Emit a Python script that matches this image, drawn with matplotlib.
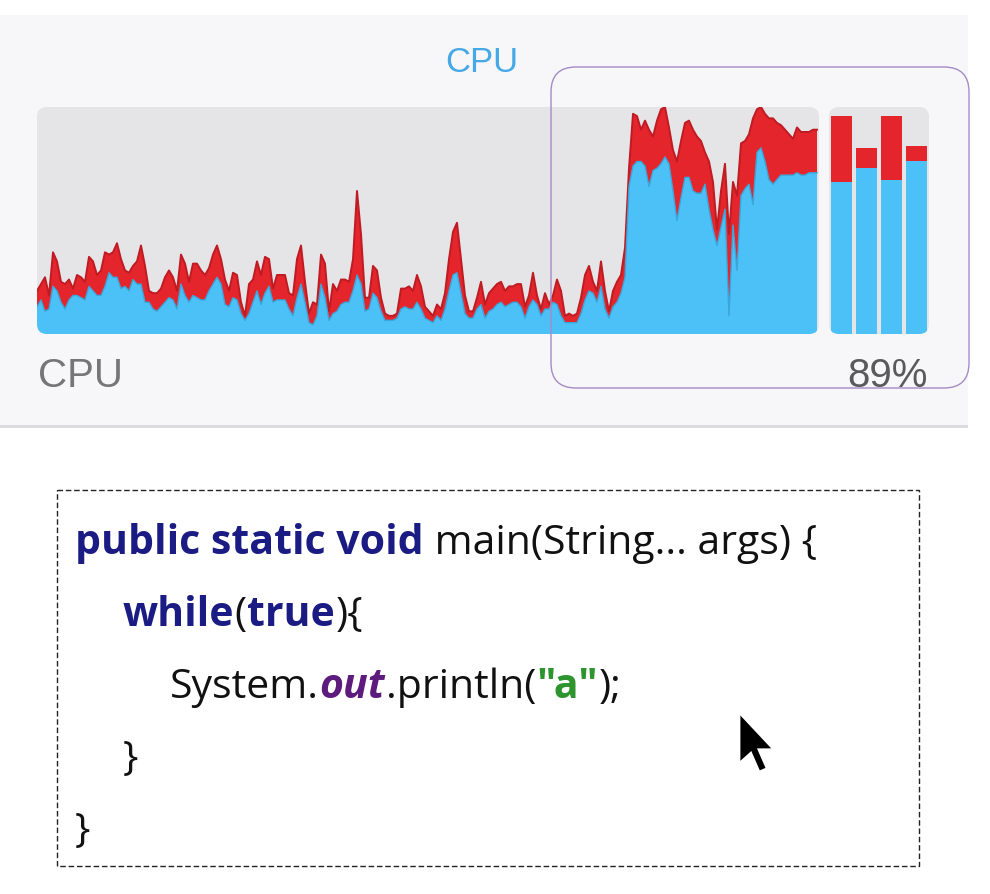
import numpy as np
import matplotlib
matplotlib.use("Agg")
import matplotlib.pyplot as plt
from matplotlib.patches import FancyBboxPatch, Rectangle, Polygon

# ---------------- data ----------------
title = "CPU"
label_left = "CPU"

# per-sample CPU load (percent), user = blue, system = red (stacked)
user_pct = [
    12, 15, 10, 11, 21, 19, 14, 11, 15, 17,
    17, 16, 15, 21, 19, 17, 17, 21, 27, 25,
    25, 20, 21, 19, 24, 22, 22, 14, 14, 11,
    10, 12, 14, 16, 15, 11, 22, 17, 14, 17,
    16, 15, 15, 19, 22, 25, 22, 13, 12, 16,
    15, 9, 6, 9, 14, 19, 13, 18, 21, 14,
    15, 15, 15, 11, 8, 16, 22, 14, 5, 4,
    8, 22, 16, 6, 9, 10, 13, 14, 14, 19,
    26, 22, 10, 11, 18, 16, 10, 6, 6, 6,
    7, 11, 12, 11, 11, 14, 11, 7, 6,
    5, 8, 6, 11, 19, 26, 27, 18, 9, 7,
    7, 11, 13, 7, 10, 11, 13, 14, 12, 13,
    14, 14, 12, 7, 12, 15, 13, 8, 11, 11,
    14, 13, 8, 5, 5, 5, 5, 9, 15, 19,
    18, 14, 21, 11, 7, 12, 14, 18, 25,
    65, 74, 76, 76, 74, 65, 72, 73, 75, 78,
    75, 63, 50, 60, 69, 69, 63, 62, 62, 66,
    55, 46, 39, 47, 55, 8, 48, 28, 61, 64,
    66, 57, 80, 82, 76, 68, 66, 68, 70, 70,
    70, 70, 71, 70, 70, 71, 71, 71,
]
system_pct = [
    7, 7, 15, 6, 15, 13, 9, 11, 9, 3,
    9, 9, 8, 13, 13, 9, 11, 15, 8, 11,
    15, 13, 7, 8, 6, 10, 17, 16, 5, 7,
    8, 8, 11, 12, 10, 8, 13, 14, 9, 14,
    15, 13, 11, 10, 13, 14, 11, 11, 7, 11,
    11, 5, 2, 13, 10, 13, 13, 16, 12, 6,
    11, 11, 11, 7, 9, 17, 17, 9, 4, 10,
    5, 13, 15, 4, 13, 9, 11, 10, 9, 14,
    37, 22, 6, 5, 12, 12, 6, 3, 2, 2,
    2, 9, 8, 10, 8, 12, 10, 5, 4,
    3, 5, 5, 7, 14, 19, 22, 15, 8, 3,
    3, 5, 10, 6, 8, 9, 9, 9, 7, 8,
    7, 8, 10, 5, 5, 12, 4, 3, 7, 2,
    3, 11, 11, 3, 4, 3, 4, 7, 11, 11,
    5, 5, 11, 8, 3, 7, 9, 8, 13,
    8, 23, 20, 14, 20, 25, 15, 21, 24, 22,
    16, 18, 26, 25, 24, 25, 27, 25, 23, 14,
    21, 21, 7, 16, 20, 36, 19, 33, 23, 21,
    22, 38, 19, 18, 21, 27, 29, 25, 22, 20,
    18, 16, 20, 19, 19, 18, 19, 19,
]

# per-core current load (percent)
core_user = [67, 73, 68, 76]
core_system = [29, 9, 28, 7]

# code listing: (text, style) segments per line
code_lines = [
    [("public static void", "kw"), (" main(String... args) {", "plain")],
    [("while", "kw"), ("(", "plain"), ("true", "kw"), ("){", "plain")],
    [("System.", "plain"), ("out", "field"), (".println(", "plain"),
     ("\"a\"", "str"), (");", "plain")],
    [("}", "plain")],
    [("}", "plain")],
]
code_indent = [0, 1, 2, 1, 0]

# ---------------- style ----------------
BLUE = "#4bc1f7"
BLUE_EDGE = "#3aa6dc"
RED = "#e4252c"
RED_EDGE = "#bf1b22"
GRAPH_BG = "#e5e5e8"
PANEL_BG = "#f7f7f9"

W, H = 990, 894
fig = plt.figure(figsize=(W / 100, H / 100), dpi=100)
fig.patch.set_facecolor("white")


def frect(x0, y0, x1, y1):
    return [x0 / W, 1 - y1 / H, (x1 - x0) / W, (y1 - y0) / H]


bg = fig.add_axes([0, 0, 1, 1])
bg.set_xlim(0, W)
bg.set_ylim(H, 0)
bg.axis("off")

# panel
bg.add_patch(Rectangle((0, 15), 968, 410, fc=PANEL_BG, ec="none"))
bg.add_patch(Rectangle((0, 425), 968, 3, fc="#dcdcde", ec="none"))

graph_patch = FancyBboxPatch((37, 107), 782, 227,
                             boxstyle="round,pad=0,rounding_size=10",
                             fc=GRAPH_BG, ec="none")
bg.add_patch(graph_patch)
bars_patch = FancyBboxPatch((829, 107), 100, 227,
                            boxstyle="round,pad=0,rounding_size=10",
                            fc=GRAPH_BG, ec="none")
bg.add_patch(bars_patch)

# history graph
ax = fig.add_axes(frect(37, 107, 819, 334))
ax.set_facecolor("none")
ax.axis("off")
n = len(user_pct)
t = np.arange(n)
user = np.array(user_pct, float)
total = user + np.array(system_pct, float)
ax.set_xlim(0, n - 0.5)
ax.set_ylim(0, 100)
polys = ax.stackplot(t, user, np.array(system_pct, float),
                     colors=[BLUE, RED], linewidth=0)
l1, = ax.plot(t, total, color=RED_EDGE, lw=1.4, solid_joinstyle="round")
l2, = ax.plot(t, user, color=BLUE_EDGE, lw=1.0, solid_joinstyle="round")
for a in list(polys) + [l1, l2]:
    a.set_clip_path(graph_patch)

# per-core bars
bax = fig.add_axes(frect(829, 107, 929, 334))
bax.set_facecolor("none")
bax.axis("off")
bax.set_xlim(-0.5, len(core_user) - 0.5)
bax.set_ylim(0, 100)
xs = np.arange(len(core_user))
b1 = bax.bar(xs, core_user, width=0.84, color=BLUE, linewidth=0)
b2 = bax.bar(xs, core_system, bottom=core_user, width=0.84, color=RED, linewidth=0)
for r in list(b1) + list(b2):
    r.set_clip_path(bars_patch)

overall = np.mean(np.array(core_user) + np.array(core_system))

# labels
bg.text(482, 72, title, color="#46a8e6", fontsize=25, ha="center",
        va="baseline", family="Liberation Sans")
bg.text(38, 387, label_left, color="#767676", fontsize=29, ha="left",
        va="baseline", family="Liberation Sans")
bg.text(928, 387, f"{overall:.0f}%", color="#5a5a5a", fontsize=29, ha="right",
        va="baseline", family="Liberation Sans")

# code box
bg.add_patch(Rectangle((57, 490), 862, 376, fill=False, ec="#222222", lw=1.0,
                       linestyle=(0, (4, 2))))

styles = {
    "kw": dict(color="#1b1b84", fontweight="bold"),
    "plain": dict(color="#111111"),
    "field": dict(color="#5e1b7e", fontweight="bold", fontstyle="italic"),
    "str": dict(color="#2e952e", fontweight="bold"),
}
renderer = fig.canvas.get_renderer()
CODE_FS = 29.5
x_left = 75
indent_px = 47.5
baselines = [554, 626, 698, 770, 842]
for line, ind, yb in zip(code_lines, code_indent, baselines):
    x = x_left + ind * indent_px
    for k, (s, st) in enumerate(line):
        txt = bg.text(x, yb, s, fontsize=CODE_FS, family="Open Sans",
                      va="baseline", ha="left", **styles[st])
        w = txt.get_window_extent(renderer=renderer).width
        x += w + 0.5

# top overlay: selection box and mouse pointer
fg = fig.add_axes([0, 0, 1, 1])
fg.set_xlim(0, W)
fg.set_ylim(H, 0)
fg.axis("off")
fg.patch.set_alpha(0)
fg.add_patch(FancyBboxPatch((551, 67), 418, 321,
                            boxstyle="round,pad=0,rounding_size=25",
                            fc="none", ec="#a68ac6", lw=1.0))
cursor_shape = np.array([(0, 0), (0, 44), (10, 35), (17, 51), (24, 48),
                         (17, 32), (30, 32)], float) * 1.18
fg.add_patch(Polygon(cursor_shape + np.array([739, 712]), closed=True,
                     fc="black", ec="white", lw=2, joinstyle="miter"))

fig.savefig("out.png", dpi=100, facecolor="white")
